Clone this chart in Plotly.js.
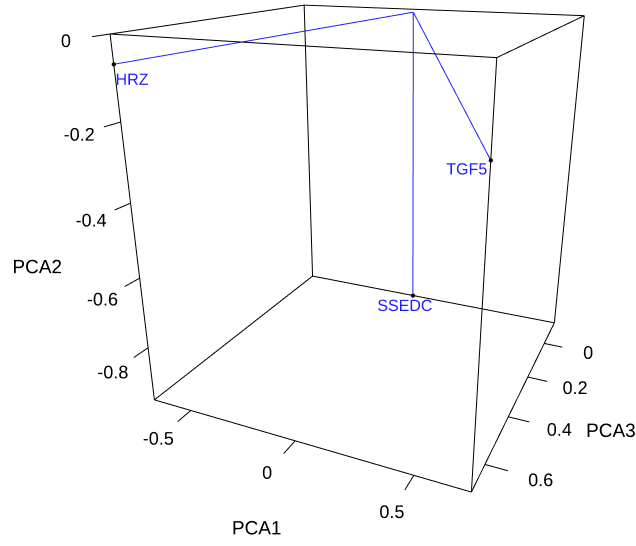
<!DOCTYPE html>
<html>
<head>
<meta charset="utf-8">
<script src="https://cdn.plot.ly/plotly-3.0.1.min.js"></script>
<style>
html,body{margin:0;padding:0;background:#fff;overflow:hidden;width:636px;height:546px;}
#plot{position:absolute;left:-8px;top:-80px;width:760px;height:630px;}
</style>
</head>
<body>
<div id="plot"></div>
<script>
// ---- data ----
var labels = ['HRZ', 'TGF5', 'SSEDC'];
var pca1 = [-0.69, 0.72, -0.06];
var pca2 = [-0.067, -0.19, -0.96];
var pca3 = [0.70, 0.70, -0.14];
// common point the three segments start from
var hub1 = -0.03, hub2 = 0.0, hub3 = -0.05;

var pca1Ticks = [-0.5, 0, 0.5];
var pca1TickText = ['-0.5', '0', '0.5'];
var pca2Ticks = [-0.8, -0.6, -0.4, -0.2, 0];
var pca2TickText = ['-0.8', '-0.6', '-0.4', '-0.2', '0'];
var pca3Ticks = [0, 0.2, 0.4, 0.6];
var pca3TickText = ['0', '0.2', '0.4', '0.6'];

// ---- layout constants ----
var r1 = [-0.69, 0.72], r2 = [-0.96, 0.0], r3 = [-0.14, 0.70];   // bounding box
var s1 = r1[1] - r1[0], s2 = r2[1] - r2[0], s3 = r3[1] - r3[0];
var m1 = (r1[0] + r1[1]) / 2, m2 = (r2[0] + r2[1]) / 2, m3 = (r3[0] + r3[1]) / 2;
var TICK = 0.062, LAB = 0.148;          // tick / label offset as a fraction of span
// label offsets (data units) relative to each point
var labOff1 = [0.078, -0.074, -0.047], labOff2 = [-0.030, -0.022, -0.044];

var FONT = 'Liberation Sans, Arial, sans-serif';
var BLUE = '#2020ff';
var traces = [];
// scene x = PCA3, y = PCA1, z = PCA2
function seg(a, b, color, w) {
  traces.push({type: 'scatter3d', mode: 'lines', x: [a[0], b[0]], y: [a[1], b[1]], z: [a[2], b[2]],
    line: {color: color, width: w}, hoverinfo: 'skip', showlegend: false});
}
function txt(xs, ys, zs, t, size, color) {
  traces.push({type: 'scatter3d', mode: 'text', x: xs, y: ys, z: zs, text: t,
    textposition: 'middle center', textfont: {family: FONT, size: size, color: color},
    hoverinfo: 'skip', showlegend: false});
}
// bounding box edges
[0, 1].forEach(function (i) {
  [0, 1].forEach(function (j) {
    seg([r3[0], r1[i], r2[j]], [r3[1], r1[i], r2[j]], '#000', 2);
    seg([r3[i], r1[0], r2[j]], [r3[i], r1[1], r2[j]], '#000', 2);
    seg([r3[i], r1[j], r2[0]], [r3[i], r1[j], r2[1]], '#000', 2);
  });
});
// ticks and tick labels
var lx = [], ly = [], lz = [];
pca1Ticks.forEach(function (v) {
  seg([r3[1], v, r2[0]], [r3[1] + TICK * s3, v, r2[0]], '#000', 2);
  lx.push(r3[1] + LAB * s3); ly.push(v); lz.push(r2[0]);
});
txt(lx, ly, lz, pca1TickText, 18, '#000');
lx = []; ly = []; lz = [];
pca2Ticks.forEach(function (v) {
  seg([r3[1], r1[0], v], [r3[1] + TICK * s3, r1[0], v], '#000', 2);
  lx.push(r3[1] + LAB * s3); ly.push(r1[0]); lz.push(v);
});
txt(lx, ly, lz, pca2TickText, 18, '#000');
lx = []; ly = []; lz = [];
pca3Ticks.forEach(function (v) {
  seg([v, r1[1], r2[0]], [v, r1[1] + TICK * s1, r2[0]], '#000', 2);
  lx.push(v); ly.push(r1[1] + LAB * s1); lz.push(r2[0]);
});
txt(lx, ly, lz, pca3TickText, 18, '#000');
// axis titles
txt([r3[1] + 0.33 * s3], [m1 + 0.074 * s1], [r2[0]], ['PCA1'], 19, '#000');
txt([r3[1] + 0.335 * s3], [r1[0]], [m2 + 0.032 * s2], ['PCA2'], 19, '#000');
txt([m3 + 0.086 * s3], [r1[1] + 0.283 * s1], [r2[0]], ['PCA3'], 19, '#000');

// segments from hub to each point
for (var k = 0; k < labels.length; k++) {
  seg([hub3, hub1, hub2], [pca3[k], pca1[k], pca2[k]], BLUE, 2);
}
// points
traces.push({type: 'scatter3d', mode: 'markers', x: pca3, y: pca1, z: pca2,
  marker: {size: 2.5, color: '#000000'}, hoverinfo: 'skip', showlegend: false});
// point labels
txt(pca3, pca1.map(function (v, i) { return v + labOff1[i]; }),
    pca2.map(function (v, i) { return v + labOff2[i]; }), labels, 16, BLUE);

// hidden scene axes, padded so nothing is clipped; box keeps the reference proportions
var PAD = 3, side = [1, 1, 1.079];
function ax(mid, span) {
  return {title: {text: ''}, range: [mid - PAD * span / 2, mid + PAD * span / 2], autorange: false,
    showticklabels: false, ticks: '', showgrid: false, zeroline: false, showbackground: false,
    showline: false, showspikes: false};
}

var layout = {
  width: 760, height: 630, margin: {l: 0, r: 0, t: 0, b: 0},
  paper_bgcolor: '#fff', showlegend: false, hovermode: false,
  scene: {
    domain: {x: [0, 1], y: [0, 1]},
    aspectmode: 'manual', aspectratio: {x: PAD * side[0], y: PAD * side[1], z: PAD * side[2]},
    xaxis: ax(m3, s3), yaxis: ax(m1, s1), zaxis: ax(m2, s2),
    camera: {eye: {x: 2.0204, y: 0.9140, z: 0.7601}, up: {x: 0, y: 0, z: 1},
      center: {x: 0.0316, y: 0.0119, z: -0.0869}, projection: {type: 'perspective'}}
  }
};
Plotly.newPlot('plot', traces, layout, {displayModeBar: false});
</script>
</body>
</html>
